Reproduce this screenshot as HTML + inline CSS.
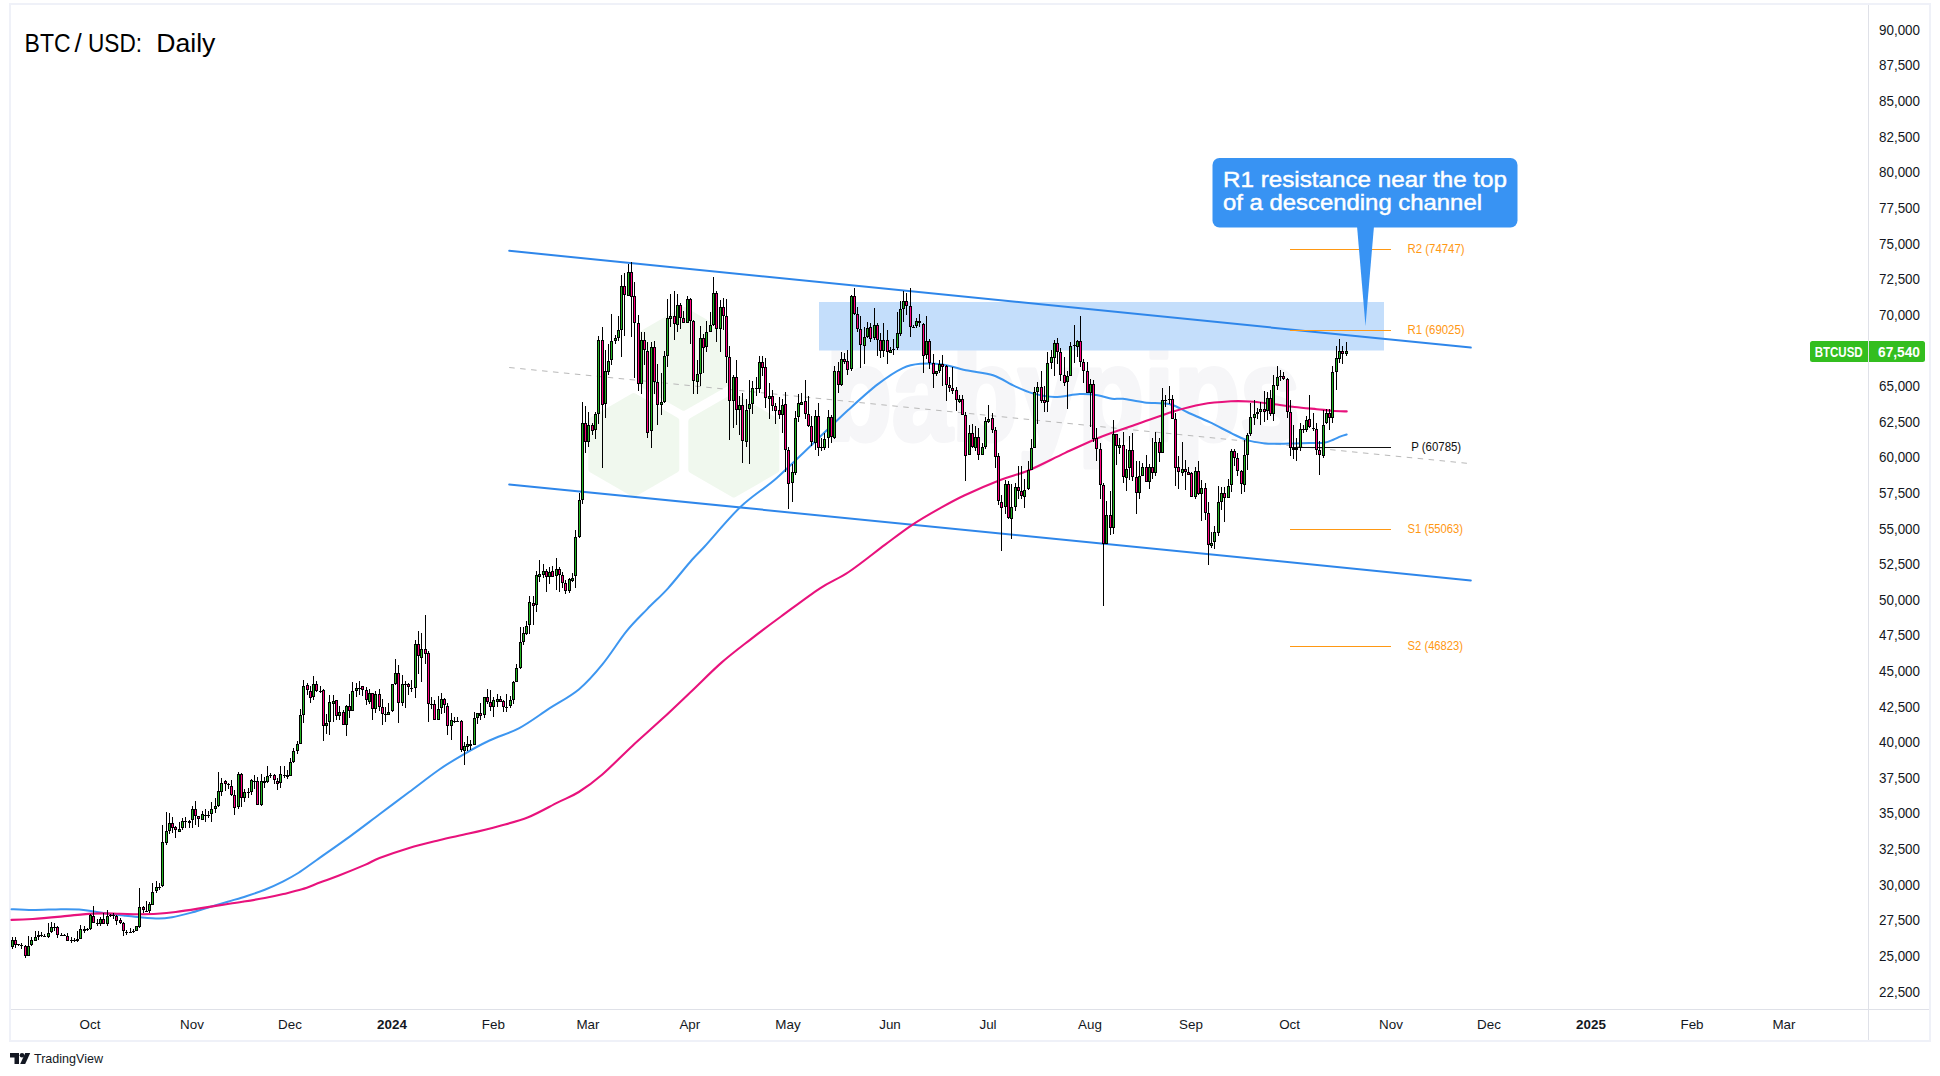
<!DOCTYPE html>
<html lang="en"><head><meta charset="utf-8"><title>BTC/USD: Daily</title>
<style>
html,body{margin:0;padding:0;background:#fff;}
body{width:1940px;height:1076px;overflow:hidden;position:relative;font-family:"Liberation Sans",sans-serif;}
svg{position:absolute;left:0;top:0;display:block;}
text{font-family:"Liberation Sans",sans-serif;}
</style></head><body>
<svg width="1940" height="1076" viewBox="0 0 1940 1076">
<rect x="0" y="0" width="1940" height="1076" fill="#ffffff"/>

<rect x="10" y="4" width="1920" height="1037" fill="none" stroke="#eff1f8" stroke-width="2"/>
<line x1="11" y1="1009.5" x2="1929" y2="1009.5" stroke="#dfe1e8" stroke-width="1"/>
<line x1="1868.5" y1="5" x2="1868.5" y2="1040" stroke="#dfe1e8" stroke-width="1"/>
<g fill="#f0f8ee" stroke="#f0f8ee" stroke-width="7" stroke-linejoin="round"><polygon points="633.8,396.5 675.8,420.8 675.8,469.2 633.8,493.5 591.8,469.2 591.8,420.8"/><polygon points="733.8,397.0 775.8,421.2 775.8,469.8 733.8,494.0 691.8,469.8 691.8,421.2"/><polygon points="683.6,310.3 725.6,334.6 725.6,383.1 683.6,407.3 641.6,383.1 641.6,334.6"/></g>
<text x="826" y="440" font-size="132" font-weight="bold" fill="#f6f6f8" stroke="#f6f6f8" stroke-width="5" stroke-linejoin="round" textLength="474" lengthAdjust="spacingAndGlyphs">babypips</text>
<rect x="819" y="302" width="565" height="48.5" fill="#c4defb"/>
<g stroke="#2e86ea" stroke-width="2" fill="none" stroke-linecap="round">
<line x1="509.2" y1="250.8" x2="1470.8" y2="347.6"/>
<line x1="509.2" y1="484.4" x2="1470.8" y2="580.4"/>
</g>
<line x1="509.2" y1="367.5" x2="1467" y2="463.3" stroke="#b9b9b9" stroke-width="1" stroke-dasharray="5.5,5.5"/>
<path d="M11.5,909.2 C15.0,909.4 24.6,910.1 32.8,910.1 C41.0,910.1 53.0,909.3 60.7,909.2 C68.4,909.1 73.6,909.1 79.2,909.5 C84.8,909.9 89.1,910.9 94.1,911.6 C99.0,912.3 103.7,913.1 108.9,913.8 C114.2,914.5 120.0,915.1 125.6,915.7 C131.2,916.3 136.7,917.0 142.3,917.5 C147.9,918.0 154.1,918.5 159.0,918.5 C163.9,918.5 166.7,918.1 172.0,917.2 C177.3,916.3 184.4,914.5 190.6,912.9 C196.8,911.2 202.9,909.1 209.1,907.3 C215.3,905.4 221.5,903.6 227.7,901.8 C233.9,899.9 240.0,898.2 246.2,896.2 C252.4,894.2 258.6,892.2 264.8,889.7 C271.0,887.2 277.7,884.1 283.3,881.3 C288.9,878.5 292.6,876.5 298.2,873.0 C303.8,869.5 308.1,866.1 316.7,860.0 C325.3,853.9 339.2,844.2 349.7,836.6 C360.2,829.0 369.6,821.7 379.5,814.3 C389.4,806.9 399.3,799.4 409.2,792.0 C419.1,784.6 430.1,775.9 439.0,769.7 C447.9,763.5 454.4,759.7 462.8,754.8 C471.2,749.9 480.1,745.0 489.5,740.5 C498.9,736.0 509.4,733.4 519.3,728.1 C529.2,722.8 539.1,715.2 549.0,708.7 C558.9,702.2 569.9,696.8 578.8,689.4 C587.7,682.0 594.7,673.8 602.6,664.1 C610.5,654.4 619.0,640.6 626.4,631.4 C633.8,622.2 640.3,616.3 647.2,609.1 C654.1,601.9 660.6,596.5 668.0,588.3 C675.4,580.1 685.7,566.9 691.8,560.0 C697.9,553.1 696.3,555.5 704.4,546.7 C712.5,537.9 728.4,518.4 740.4,507.0 C752.4,495.6 764.5,488.7 776.5,478.2 C788.5,467.7 800.6,455.3 812.6,443.9 C824.6,432.5 837.9,419.5 848.7,409.6 C859.5,399.7 868.6,391.3 877.6,384.4 C886.6,377.5 895.6,371.5 902.8,368.1 C910.0,364.7 914.3,364.4 920.9,363.8 C927.5,363.2 934.7,363.4 942.5,364.5 C950.3,365.6 959.4,368.8 967.8,370.6 C976.2,372.4 985.3,372.7 993.1,375.3 C1000.9,377.9 1008.1,383.2 1014.7,386.2 C1021.3,389.2 1026.2,391.6 1032.8,393.4 C1039.4,395.2 1046.6,396.9 1054.4,397.0 C1062.2,397.1 1072.5,394.4 1079.7,394.1 C1086.9,393.8 1092.3,394.4 1097.7,395.2 C1103.1,396.0 1107.9,398.2 1112.1,398.8 C1116.3,399.4 1117.6,398.2 1123.0,398.8 C1128.4,399.4 1136.8,401.5 1144.6,402.4 C1152.4,403.3 1162.7,402.5 1169.9,404.2 C1177.1,405.9 1181.3,409.5 1187.9,412.5 C1194.5,415.5 1202.4,418.8 1209.6,422.2 C1216.8,425.6 1225.2,430.2 1231.2,433.1 C1237.2,436.0 1240.1,437.9 1245.7,439.6 C1251.3,441.3 1259.2,442.7 1264.9,443.4 C1270.6,444.1 1274.8,443.7 1279.7,443.7 C1284.7,443.7 1289.6,443.5 1294.6,443.4 C1299.6,443.3 1304.5,443.1 1309.5,443.0 C1314.5,442.9 1320.3,443.2 1324.3,442.7 C1328.3,442.1 1330.6,440.8 1333.3,439.7 C1336.0,438.6 1338.5,437.3 1340.7,436.4 C1342.9,435.5 1345.7,434.8 1346.7,434.5" fill="none" stroke="#3d96f0" stroke-width="2" stroke-linecap="round" stroke-linejoin="round"/>
<path d="M11.5,919.9 C15.0,919.8 24.6,919.5 32.8,919.0 C41.0,918.5 52.4,917.4 60.7,916.6 C69.1,915.8 76.1,914.9 82.9,914.4 C89.7,913.9 95.3,913.5 101.5,913.4 C107.7,913.3 113.8,913.7 120.0,913.8 C126.2,913.9 132.4,914.2 138.6,914.2 C144.8,914.2 151.0,914.2 157.2,913.8 C163.4,913.4 168.9,912.9 175.7,912.0 C182.5,911.1 190.6,909.8 198.0,908.6 C205.4,907.5 212.9,906.2 220.3,905.1 C227.7,904.0 235.1,903.0 242.5,901.8 C249.9,900.6 258.0,899.3 264.8,898.0 C271.6,896.7 277.1,895.5 283.3,894.0 C289.5,892.5 295.7,891.2 301.9,889.3 C308.1,887.3 314.3,884.6 320.5,882.3 C326.7,880.0 331.6,878.4 339.0,875.5 C346.4,872.6 358.2,867.8 365.0,864.9 C371.8,862.0 372.1,860.8 379.5,858.0 C386.9,855.2 399.3,850.9 409.2,847.9 C419.1,844.9 429.1,842.6 439.0,840.2 C448.9,837.8 458.8,835.9 468.7,833.6 C478.6,831.3 488.6,828.9 498.5,826.2 C508.4,823.5 518.3,821.3 528.2,817.3 C538.1,813.3 549.5,806.6 557.9,802.4 C566.3,798.2 571.3,796.7 578.8,792.0 C586.2,787.3 593.7,781.9 602.6,774.2 C611.5,766.5 622.4,755.1 632.3,745.9 C642.2,736.7 652.1,728.3 662.0,719.1 C671.9,709.9 681.9,700.3 691.8,690.9 C701.7,681.5 711.6,671.3 721.5,662.6 C731.4,653.9 741.4,646.5 751.3,638.8 C761.2,631.1 769.5,624.9 781.0,616.5 C792.5,608.1 808.7,595.7 820.0,588.3 C831.3,580.9 837.9,579.2 848.7,572.0 C859.5,564.8 874.3,552.7 884.8,544.9 C895.3,537.1 902.9,531.1 911.9,525.1 C920.9,519.1 930.2,513.8 938.9,508.9 C947.6,504.0 954.0,500.3 964.2,495.5 C974.4,490.7 989.5,484.2 1000.3,480.0 C1011.1,475.8 1018.3,474.7 1029.1,470.2 C1039.9,465.7 1053.2,458.5 1065.2,452.9 C1077.2,447.3 1089.3,441.5 1101.3,436.7 C1113.3,431.9 1125.4,428.2 1137.4,424.0 C1149.4,419.8 1162.7,414.7 1173.5,411.4 C1184.3,408.1 1192.8,405.9 1202.4,404.2 C1212.0,402.5 1223.3,401.8 1231.2,401.3 C1239.1,400.9 1243.2,401.1 1250.0,401.5 C1256.8,401.9 1264.9,403.1 1272.3,404.0 C1279.7,404.9 1287.2,406.1 1294.6,407.0 C1302.0,407.9 1310.7,408.6 1316.9,409.2 C1323.1,409.8 1326.8,410.3 1331.8,410.7 C1336.8,411.1 1344.2,411.3 1346.7,411.4" fill="none" stroke="#e8127c" stroke-width="2.1" stroke-linecap="round" stroke-linejoin="round"/>
<line x1="1290" y1="249.5" x2="1391" y2="249.5" stroke="#ff9813" stroke-width="1.2"/>
<text x="1407.5" y="252.7" font-size="12.1" fill="#ff9813" textLength="57.1" lengthAdjust="spacingAndGlyphs">R2 (74747)</text>
<line x1="1290" y1="330.5" x2="1391" y2="330.5" stroke="#ff9813" stroke-width="1.2"/>
<text x="1407.5" y="333.7" font-size="12.1" fill="#ff9813" textLength="57.1" lengthAdjust="spacingAndGlyphs">R1 (69025)</text>
<line x1="1290" y1="447.5" x2="1391" y2="447.5" stroke="#111111" stroke-width="1.2"/>
<text x="1411.2" y="450.7" font-size="12.1" fill="#111111" textLength="50.0" lengthAdjust="spacingAndGlyphs">P (60785)</text>
<line x1="1290" y1="529.5" x2="1391" y2="529.5" stroke="#ff9813" stroke-width="1.2"/>
<text x="1407.6" y="532.7" font-size="12.1" fill="#ff9813" textLength="55.4" lengthAdjust="spacingAndGlyphs">S1 (55063)</text>
<line x1="1290" y1="646.5" x2="1391" y2="646.5" stroke="#ff9813" stroke-width="1.2"/>
<text x="1407.6" y="649.7" font-size="12.1" fill="#ff9813" textLength="55.4" lengthAdjust="spacingAndGlyphs">S2 (46823)</text>
<g shape-rendering="crispEdges">
<path d="M12.5,937V949M15.5,937V948M18.5,944V946M21.5,943V949M25.5,945V958M28.5,936V956M31.5,937V946M35.5,931V941M38.5,931V940M41.5,932V937M44.5,934V937M48.5,923V938M51.5,922V933M54.5,923V931M57.5,926V938M61.5,933V936M64.5,934V936M67.5,933V941M71.5,937V943M74.5,938V942M77.5,931V942M80.5,925V939M84.5,926V933M87.5,928V931M90.5,914V930M93.5,906V923M97.5,919V926M100.5,917V926M103.5,913V924M107.5,910V926M110.5,914V917M113.5,913V919M116.5,915V925M120.5,918V924M123.5,922V936M126.5,930V935M130.5,928V933M133.5,929V933M136.5,926V931M139.5,888V928M143.5,906V913M146.5,901V912M149.5,902V913M152.5,883V905M156.5,881V893M159.5,883V890M162.5,825V887M166.5,812V845M169.5,813V834M172.5,817V833M175.5,826V838M179.5,822V832M182.5,818V830M185.5,817V828M189.5,820V828M192.5,806V828M195.5,801V825M198.5,816V827M202.5,811V820M205.5,809V822M208.5,811V818M211.5,802V822M215.5,798V813M218.5,772V807M221.5,778V796M225.5,780V791M228.5,783V789M231.5,780V796M234.5,790V815M238.5,772V809M241.5,773V807M244.5,789V802M248.5,788V798M251.5,779V795M254.5,775V789M257.5,777V805M261.5,774V806M264.5,777V788M267.5,766V783M270.5,773V778M274.5,774V784M277.5,778V790M280.5,766V788M284.5,766V778M287.5,770V779M290.5,758V776M293.5,748V763M297.5,741V754M300.5,709V744M303.5,680V723M307.5,683V695M310.5,686V703M313.5,676V700M316.5,681V692M320.5,686V693M323.5,689V741M326.5,714V734M329.5,695V735M333.5,695V722M336.5,700V720M339.5,706V720M343.5,710V725M346.5,705V736M349.5,694V718M352.5,682V711M356.5,683V697M359.5,681V695M362.5,686V696M366.5,687V705M369.5,689V704M372.5,693V720M375.5,691V713M379.5,689V711M382.5,699V725M385.5,707V722M388.5,703V715M392.5,684V712M395.5,659V685M398.5,665V723M402.5,675V706M405.5,681V708M408.5,683V695M411.5,680V692M415.5,640V698M418.5,631V674M421.5,633V682M425.5,615V664M428.5,651V722M431.5,697V709M434.5,700V720M438.5,696V720M441.5,693V714M444.5,698V713M447.5,703V735M451.5,713V740M454.5,717V723M457.5,717V722M461.5,720V752M464.5,742V765M467.5,736V751M470.5,740V750M474.5,712V745M477.5,713V724M480.5,703V720M484.5,697V718M487.5,689V704M490.5,690V711M493.5,697V717M497.5,694V707M500.5,696V702M503.5,700V712M506.5,694V712M510.5,696V708M513.5,681V704M516.5,664V682M520.5,627V669M523.5,627V645M526.5,621V635M529.5,596V634M533.5,596V625M536.5,571V612M539.5,560V582M543.5,564V578M546.5,569V592M549.5,567V584M552.5,566V577M556.5,558V590M559.5,567V592M562.5,572V588M565.5,580V594M569.5,578V593M572.5,573V582M575.5,530V588M579.5,493V538M582.5,402V504M585.5,406V453M588.5,412V447M592.5,423V435M595.5,412V439M598.5,336V424M602.5,327V468M605.5,350V418M608.5,344V375M611.5,314V365M615.5,335V344M618.5,316V341M621.5,275V357M624.5,273V336M628.5,264V296M631.5,262V337M634.5,282V378M638.5,315V391M641.5,332V394M644.5,332V365M647.5,342V438M651.5,342V448M654.5,341V394M657.5,364V425M661.5,373V415M664.5,351V403M667.5,299V367M670.5,294V327M674.5,291V340M677.5,294V332M680.5,303V329M683.5,311V323M687.5,296V323M690.5,298V344M693.5,320V394M697.5,360V394M700.5,326V386M703.5,334V373M706.5,321V352M710.5,312V332M713.5,277V326M716.5,291V342M720.5,300V352M723.5,298V330M726.5,299V383M729.5,346V440M733.5,375V428M736.5,360V425M739.5,396V435M742.5,393V463M746.5,399V447M749.5,380V464M752.5,381V414M756.5,377V396M759.5,356V393M762.5,356V376M765.5,358V408M769.5,383V419M772.5,390V411M775.5,403V424M779.5,397V419M782.5,399V433M785.5,392V472M788.5,447V509M792.5,464V502M795.5,411V475M798.5,394V422M801.5,393V405M805.5,380V419M808.5,396V427M811.5,416V446M815.5,410V450M818.5,403V456M821.5,438V451M824.5,433V450M828.5,410V448M831.5,415V443M834.5,366V439M838.5,362V393M841.5,352V386M844.5,353V364M847.5,350V375M851.5,295V371M854.5,288V315M857.5,307V332M860.5,316V368M864.5,327V364M867.5,322V338M870.5,323V342M874.5,308V340M877.5,323V356M880.5,333V358M883.5,323V357M887.5,330V364M890.5,347V353M893.5,339V355M897.5,312V350M900.5,301V336M903.5,291V322M906.5,293V315M910.5,288V337M913.5,325V328M916.5,318V328M919.5,314V327M923.5,323V373M926.5,316V359M929.5,339V369M933.5,354V388M936.5,371V376M939.5,360V373M942.5,355V386M946.5,365V401M949.5,377V392M952.5,367V394M956.5,387V411M959.5,395V403M962.5,395V415M965.5,412V481M969.5,425V455M972.5,424V448M975.5,426V451M978.5,428V460M982.5,443V455M985.5,417V449M988.5,405V423M992.5,413V433M995.5,427V468M998.5,453V505M1001.5,495V551M1005.5,480V514M1008.5,481V519M1011.5,484V539M1015.5,483V511M1018.5,466V499M1021.5,466V499M1024.5,479V508M1028.5,461V490M1031.5,439V470M1034.5,387V448M1037.5,382V424M1041.5,371V403M1044.5,386V412M1047.5,352V412M1051.5,350V369M1054.5,340V376M1057.5,338V364M1060.5,348V381M1064.5,357V386M1067.5,371V409M1070.5,342V376M1074.5,325V363M1077.5,340V357M1080.5,316V367M1083.5,359V383M1087.5,362V393M1090.5,379V427M1093.5,380V442M1096.5,428V461M1100.5,443V499M1103.5,483V606M1106.5,501V544M1110.5,491V535M1113.5,420V534M1116.5,434V465M1119.5,438V454M1123.5,432V483M1126.5,449V491M1129.5,436V480M1132.5,433V481M1136.5,461V514M1139.5,461V499M1142.5,463V476M1146.5,455V482M1149.5,464V489M1152.5,438V479M1155.5,432V476M1159.5,438V462M1162.5,388V453M1165.5,395V407M1169.5,386V404M1172.5,395V419M1175.5,413V486M1178.5,456V489M1182.5,442V476M1185.5,460V490M1188.5,467V475M1191.5,472V497M1195.5,467V499M1198.5,461V495M1201.5,480V521M1205.5,483V520M1208.5,502V565M1211.5,532V548M1214.5,526V549M1218.5,486V536M1221.5,487V510M1224.5,487V522M1228.5,479V498M1231.5,449V492M1234.5,449V466M1237.5,453V476M1241.5,470V494M1244.5,440V492M1247.5,433V470M1250.5,403V436M1254.5,400V425M1257.5,408V419M1260.5,402V425M1264.5,391V422M1267.5,392V420M1270.5,390V416M1273.5,375V421M1277.5,366V390M1280.5,370V381M1283.5,372V380M1287.5,378V418M1290.5,400V456M1293.5,425V459M1296.5,438V461M1300.5,423V451M1303.5,425V433M1306.5,416V432M1309.5,395V428M1313.5,413V431M1316.5,423V455M1319.5,441V475M1323.5,410V458M1326.5,409V424M1329.5,409V430M1332.5,366V423M1336.5,346V390M1339.5,339V363M1342.5,346V364M1346.5,342V356" stroke="#000" stroke-width="1" fill="none"/>
<path d="M17.0,944.5H20.0M20.0,945.5H23.0M37.0,935.5H40.0M37.0,936.5H40.0M40.0,935.5H43.0M43.0,936.5H46.0M53.0,927.5H56.0M60.0,935.5H63.0M63.0,935.5H66.0M70.0,940.5H73.0M73.0,940.5H76.0M76.0,939.5H79.0M76.0,940.5H79.0M83.0,929.5H86.0M83.0,930.5H86.0M86.0,929.5H89.0M96.0,923.5H99.0M109.0,915.5H112.0M112.0,915.5H115.0M125.0,932.5H128.0M129.0,932.5H132.0M132.0,931.5H135.0M145.0,911.5H148.0M158.0,887.5H161.0M184.0,821.5H187.0M188.0,821.5H191.0M188.0,822.5H191.0M204.0,815.5H207.0M207.0,815.5H210.0M227.0,784.5H230.0M247.0,792.5H250.0M253.0,781.5H256.0M263.0,781.5H266.0M263.0,782.5H266.0M269.0,775.5H272.0M283.0,775.5H286.0M286.0,775.5H289.0M286.0,776.5H289.0M319.0,691.5H322.0M358.0,688.5H361.0M384.0,714.5H387.0M404.0,684.5H407.0M410.0,688.5H413.0M430.0,704.5H433.0M453.0,721.5H456.0M456.0,721.5H459.0M469.0,744.5H472.0M469.0,745.5H472.0M505.0,707.5H508.0M755.0,388.5H758.0M820.0,447.5H823.0M892.0,349.5H895.0M912.0,327.5H915.0M918.0,321.5H921.0M918.0,322.5H921.0M1073.0,345.5H1076.0M1164.0,400.5H1167.0M1168.0,399.5H1171.0M1256.0,412.5H1259.0M1256.0,413.5H1259.0M1279.0,376.5H1282.0M1292.0,448.5H1295.0M1292.0,449.5H1295.0M1295.0,448.5H1298.0M1295.0,449.5H1298.0M1302.0,429.5H1305.0M1312.0,428.5H1315.0" stroke="#000" stroke-width="1" fill="none"/>
<path d="M11.5,940.5H13.5V946.5H11.5ZM27.5,946.5H29.5V955.5H27.5ZM30.5,940.5H32.5V944.5H30.5ZM34.5,937.5H36.5V940.5H34.5ZM47.5,933.5H49.5V936.5H47.5ZM50.5,927.5H52.5V931.5H50.5ZM79.5,929.5H81.5V938.5H79.5ZM89.5,915.5H91.5V928.5H89.5ZM99.5,919.5H101.5V923.5H99.5ZM106.5,916.5H108.5V923.5H106.5ZM135.5,926.5H137.5V930.5H135.5ZM138.5,907.5H140.5V926.5H138.5ZM148.5,904.5H150.5V910.5H148.5ZM151.5,892.5H153.5V904.5H151.5ZM155.5,887.5H157.5V890.5H155.5ZM161.5,842.5H163.5V885.5H161.5ZM165.5,831.5H167.5V842.5H165.5ZM168.5,823.5H170.5V830.5H168.5ZM178.5,829.5H180.5V831.5H178.5ZM181.5,821.5H183.5V827.5H181.5ZM191.5,809.5H193.5V819.5H191.5ZM201.5,814.5H203.5V819.5H201.5ZM210.5,809.5H212.5V813.5H210.5ZM214.5,806.5H216.5V808.5H214.5ZM217.5,791.5H219.5V805.5H217.5ZM220.5,783.5H222.5V791.5H220.5ZM237.5,774.5H239.5V806.5H237.5ZM243.5,792.5H245.5V797.5H243.5ZM250.5,780.5H252.5V791.5H250.5ZM260.5,781.5H262.5V804.5H260.5ZM266.5,776.5H268.5V781.5H266.5ZM279.5,774.5H281.5V782.5H279.5ZM289.5,762.5H291.5V775.5H289.5ZM292.5,751.5H294.5V761.5H292.5ZM296.5,744.5H298.5V750.5H296.5ZM299.5,715.5H301.5V743.5H299.5ZM302.5,686.5H304.5V714.5H302.5ZM312.5,684.5H314.5V696.5H312.5ZM325.5,723.5H327.5V725.5H325.5ZM328.5,702.5H330.5V721.5H328.5ZM332.5,701.5H334.5V703.5H332.5ZM338.5,712.5H340.5V715.5H338.5ZM345.5,706.5H347.5V724.5H345.5ZM351.5,691.5H353.5V710.5H351.5ZM355.5,688.5H357.5V690.5H355.5ZM368.5,693.5H370.5V701.5H368.5ZM374.5,694.5H376.5V708.5H374.5ZM387.5,712.5H389.5V714.5H387.5ZM391.5,684.5H393.5V710.5H391.5ZM394.5,673.5H396.5V683.5H394.5ZM401.5,684.5H403.5V702.5H401.5ZM414.5,644.5H416.5V687.5H414.5ZM420.5,649.5H422.5V657.5H420.5ZM437.5,709.5H439.5V719.5H437.5ZM440.5,699.5H442.5V707.5H440.5ZM450.5,720.5H452.5V725.5H450.5ZM463.5,746.5H465.5V750.5H463.5ZM466.5,744.5H468.5V746.5H466.5ZM473.5,718.5H475.5V744.5H473.5ZM476.5,713.5H478.5V717.5H476.5ZM483.5,697.5H485.5V714.5H483.5ZM492.5,700.5H494.5V706.5H492.5ZM496.5,699.5H498.5V701.5H496.5ZM509.5,700.5H511.5V705.5H509.5ZM512.5,682.5H514.5V699.5H512.5ZM515.5,668.5H517.5V681.5H515.5ZM519.5,642.5H521.5V667.5H519.5ZM522.5,633.5H524.5V641.5H522.5ZM525.5,626.5H527.5V633.5H525.5ZM528.5,602.5H530.5V624.5H528.5ZM535.5,575.5H537.5V604.5H535.5ZM538.5,574.5H540.5V576.5H538.5ZM542.5,571.5H544.5V574.5H542.5ZM548.5,572.5H550.5V576.5H548.5ZM555.5,569.5H557.5V575.5H555.5ZM568.5,579.5H570.5V590.5H568.5ZM571.5,578.5H573.5V580.5H571.5ZM574.5,537.5H576.5V575.5H574.5ZM578.5,500.5H580.5V536.5H578.5ZM581.5,423.5H583.5V499.5H581.5ZM587.5,425.5H589.5V441.5H587.5ZM594.5,414.5H596.5V429.5H594.5ZM597.5,340.5H599.5V413.5H597.5ZM604.5,371.5H606.5V403.5H604.5ZM607.5,361.5H609.5V371.5H607.5ZM610.5,341.5H612.5V359.5H610.5ZM614.5,338.5H616.5V340.5H614.5ZM617.5,330.5H619.5V337.5H617.5ZM620.5,286.5H622.5V329.5H620.5ZM627.5,272.5H629.5V295.5H627.5ZM640.5,340.5H642.5V383.5H640.5ZM650.5,347.5H652.5V430.5H650.5ZM660.5,402.5H662.5V404.5H660.5ZM663.5,356.5H665.5V401.5H663.5ZM666.5,318.5H668.5V355.5H666.5ZM669.5,316.5H671.5V318.5H669.5ZM676.5,305.5H678.5V324.5H676.5ZM686.5,299.5H688.5V322.5H686.5ZM696.5,374.5H698.5V381.5H696.5ZM699.5,338.5H701.5V373.5H699.5ZM705.5,332.5H707.5V346.5H705.5ZM709.5,325.5H711.5V331.5H709.5ZM712.5,293.5H714.5V324.5H712.5ZM719.5,307.5H721.5V328.5H719.5ZM732.5,377.5H734.5V400.5H732.5ZM738.5,405.5H740.5V409.5H738.5ZM745.5,410.5H747.5V441.5H745.5ZM748.5,404.5H750.5V408.5H748.5ZM751.5,388.5H753.5V403.5H751.5ZM758.5,362.5H760.5V388.5H758.5ZM768.5,396.5H770.5V398.5H768.5ZM781.5,405.5H783.5V414.5H781.5ZM791.5,472.5H793.5V482.5H791.5ZM794.5,418.5H796.5V472.5H794.5ZM797.5,403.5H799.5V416.5H797.5ZM800.5,402.5H802.5V404.5H800.5ZM814.5,416.5H816.5V442.5H814.5ZM823.5,439.5H825.5V447.5H823.5ZM827.5,417.5H829.5V437.5H827.5ZM833.5,371.5H835.5V437.5H833.5ZM840.5,359.5H842.5V384.5H840.5ZM850.5,296.5H852.5V368.5H850.5ZM863.5,337.5H865.5V345.5H863.5ZM866.5,328.5H868.5V336.5H866.5ZM873.5,325.5H875.5V337.5H873.5ZM882.5,340.5H884.5V350.5H882.5ZM889.5,350.5H891.5V352.5H889.5ZM896.5,333.5H898.5V347.5H896.5ZM899.5,309.5H901.5V333.5H899.5ZM902.5,301.5H904.5V308.5H902.5ZM915.5,321.5H917.5V325.5H915.5ZM925.5,341.5H927.5V354.5H925.5ZM935.5,371.5H937.5V373.5H935.5ZM938.5,364.5H940.5V370.5H938.5ZM958.5,399.5H960.5V401.5H958.5ZM968.5,433.5H970.5V454.5H968.5ZM974.5,437.5H976.5V447.5H974.5ZM981.5,447.5H983.5V454.5H981.5ZM984.5,421.5H986.5V446.5H984.5ZM987.5,419.5H989.5V421.5H987.5ZM1004.5,484.5H1006.5V506.5H1004.5ZM1010.5,507.5H1012.5V518.5H1010.5ZM1014.5,487.5H1016.5V506.5H1014.5ZM1023.5,490.5H1025.5V496.5H1023.5ZM1027.5,470.5H1029.5V488.5H1027.5ZM1030.5,448.5H1032.5V469.5H1030.5ZM1033.5,392.5H1035.5V447.5H1033.5ZM1036.5,387.5H1038.5V391.5H1036.5ZM1046.5,363.5H1048.5V401.5H1046.5ZM1050.5,357.5H1052.5V362.5H1050.5ZM1053.5,343.5H1055.5V357.5H1053.5ZM1066.5,376.5H1068.5V381.5H1066.5ZM1069.5,346.5H1071.5V375.5H1069.5ZM1076.5,341.5H1078.5V346.5H1076.5ZM1089.5,384.5H1091.5V392.5H1089.5ZM1105.5,515.5H1107.5V543.5H1105.5ZM1112.5,434.5H1114.5V527.5H1112.5ZM1118.5,445.5H1120.5V447.5H1118.5ZM1125.5,469.5H1127.5V477.5H1125.5ZM1128.5,450.5H1130.5V467.5H1128.5ZM1138.5,476.5H1140.5V492.5H1138.5ZM1141.5,467.5H1143.5V475.5H1141.5ZM1148.5,467.5H1150.5V481.5H1148.5ZM1154.5,442.5H1156.5V472.5H1154.5ZM1161.5,400.5H1163.5V452.5H1161.5ZM1181.5,469.5H1183.5V472.5H1181.5ZM1194.5,471.5H1196.5V496.5H1194.5ZM1200.5,488.5H1202.5V493.5H1200.5ZM1210.5,543.5H1212.5V545.5H1210.5ZM1213.5,532.5H1215.5V541.5H1213.5ZM1217.5,502.5H1219.5V532.5H1217.5ZM1220.5,493.5H1222.5V501.5H1220.5ZM1227.5,486.5H1229.5V497.5H1227.5ZM1230.5,451.5H1232.5V484.5H1230.5ZM1243.5,455.5H1245.5V484.5H1243.5ZM1246.5,435.5H1248.5V454.5H1246.5ZM1249.5,417.5H1251.5V433.5H1249.5ZM1253.5,414.5H1255.5V417.5H1253.5ZM1259.5,409.5H1261.5V411.5H1259.5ZM1266.5,398.5H1268.5V410.5H1266.5ZM1272.5,385.5H1274.5V413.5H1272.5ZM1276.5,377.5H1278.5V385.5H1276.5ZM1299.5,429.5H1301.5V447.5H1299.5ZM1305.5,420.5H1307.5V429.5H1305.5ZM1322.5,425.5H1324.5V455.5H1322.5ZM1325.5,413.5H1327.5V422.5H1325.5ZM1331.5,372.5H1333.5V417.5H1331.5ZM1335.5,358.5H1337.5V371.5H1335.5ZM1338.5,351.5H1340.5V358.5H1338.5ZM1345.5,351.5H1347.5V353.5H1345.5Z" stroke="#000" stroke-width="1" fill="#22b522"/>
<path d="M14.5,940.5H16.5V944.5H14.5ZM24.5,946.5H26.5V955.5H24.5ZM56.5,927.5H58.5V934.5H56.5ZM66.5,936.5H68.5V940.5H66.5ZM92.5,916.5H94.5V922.5H92.5ZM102.5,919.5H104.5V923.5H102.5ZM115.5,916.5H117.5V920.5H115.5ZM119.5,920.5H121.5V922.5H119.5ZM122.5,923.5H124.5V930.5H122.5ZM142.5,907.5H144.5V909.5H142.5ZM171.5,823.5H173.5V827.5H171.5ZM174.5,827.5H176.5V829.5H174.5ZM194.5,809.5H196.5V815.5H194.5ZM197.5,816.5H199.5V818.5H197.5ZM224.5,781.5H226.5V783.5H224.5ZM230.5,786.5H232.5V794.5H230.5ZM233.5,795.5H235.5V807.5H233.5ZM240.5,774.5H242.5V797.5H240.5ZM256.5,781.5H258.5V804.5H256.5ZM273.5,775.5H275.5V779.5H273.5ZM276.5,781.5H278.5V783.5H276.5ZM306.5,685.5H308.5V689.5H306.5ZM309.5,691.5H311.5V697.5H309.5ZM315.5,684.5H317.5V690.5H315.5ZM322.5,690.5H324.5V725.5H322.5ZM335.5,700.5H337.5V715.5H335.5ZM342.5,712.5H344.5V724.5H342.5ZM348.5,706.5H350.5V710.5H348.5ZM361.5,686.5H363.5V689.5H361.5ZM365.5,690.5H367.5V699.5H365.5ZM371.5,693.5H373.5V708.5H371.5ZM378.5,694.5H380.5V706.5H378.5ZM381.5,707.5H383.5V713.5H381.5ZM397.5,673.5H399.5V702.5H397.5ZM407.5,684.5H409.5V686.5H407.5ZM417.5,644.5H419.5V655.5H417.5ZM424.5,649.5H426.5V653.5H424.5ZM427.5,653.5H429.5V703.5H427.5ZM433.5,704.5H435.5V719.5H433.5ZM443.5,699.5H445.5V704.5H443.5ZM446.5,706.5H448.5V725.5H446.5ZM460.5,721.5H462.5V749.5H460.5ZM479.5,713.5H481.5V715.5H479.5ZM486.5,697.5H488.5V701.5H486.5ZM489.5,702.5H491.5V706.5H489.5ZM499.5,699.5H501.5V701.5H499.5ZM502.5,701.5H504.5V706.5H502.5ZM532.5,603.5H534.5V605.5H532.5ZM545.5,571.5H547.5V576.5H545.5ZM551.5,571.5H553.5V576.5H551.5ZM558.5,569.5H560.5V574.5H558.5ZM561.5,575.5H563.5V582.5H561.5ZM564.5,583.5H566.5V590.5H564.5ZM584.5,423.5H586.5V441.5H584.5ZM591.5,425.5H593.5V430.5H591.5ZM601.5,340.5H603.5V404.5H601.5ZM623.5,286.5H625.5V294.5H623.5ZM630.5,272.5H632.5V296.5H630.5ZM633.5,296.5H635.5V322.5H633.5ZM637.5,323.5H639.5V383.5H637.5ZM643.5,340.5H645.5V349.5H643.5ZM646.5,351.5H648.5V432.5H646.5ZM653.5,347.5H655.5V381.5H653.5ZM656.5,382.5H658.5V404.5H656.5ZM673.5,316.5H675.5V323.5H673.5ZM679.5,305.5H681.5V317.5H679.5ZM682.5,318.5H684.5V322.5H682.5ZM689.5,299.5H691.5V320.5H689.5ZM692.5,321.5H694.5V380.5H692.5ZM702.5,338.5H704.5V347.5H702.5ZM715.5,293.5H717.5V328.5H715.5ZM722.5,307.5H724.5V315.5H722.5ZM725.5,316.5H727.5V356.5H725.5ZM728.5,357.5H730.5V400.5H728.5ZM735.5,377.5H737.5V409.5H735.5ZM741.5,405.5H743.5V440.5H741.5ZM761.5,362.5H763.5V367.5H761.5ZM764.5,367.5H766.5V397.5H764.5ZM771.5,396.5H773.5V405.5H771.5ZM774.5,406.5H776.5V410.5H774.5ZM778.5,410.5H780.5V414.5H778.5ZM784.5,404.5H786.5V449.5H784.5ZM787.5,450.5H789.5V483.5H787.5ZM804.5,401.5H806.5V413.5H804.5ZM807.5,414.5H809.5V425.5H807.5ZM810.5,426.5H812.5V441.5H810.5ZM817.5,416.5H819.5V447.5H817.5ZM830.5,417.5H832.5V436.5H830.5ZM837.5,371.5H839.5V384.5H837.5ZM843.5,359.5H845.5V361.5H843.5ZM846.5,361.5H848.5V369.5H846.5ZM853.5,296.5H855.5V313.5H853.5ZM856.5,314.5H858.5V328.5H856.5ZM859.5,329.5H861.5V344.5H859.5ZM869.5,327.5H871.5V338.5H869.5ZM876.5,325.5H878.5V339.5H876.5ZM879.5,340.5H881.5V350.5H879.5ZM886.5,340.5H888.5V351.5H886.5ZM905.5,301.5H907.5V305.5H905.5ZM909.5,306.5H911.5V326.5H909.5ZM922.5,324.5H924.5V355.5H922.5ZM928.5,341.5H930.5V362.5H928.5ZM932.5,363.5H934.5V373.5H932.5ZM941.5,364.5H943.5V366.5H941.5ZM945.5,366.5H947.5V384.5H945.5ZM948.5,385.5H950.5V387.5H948.5ZM951.5,388.5H953.5V390.5H951.5ZM955.5,390.5H957.5V399.5H955.5ZM961.5,399.5H963.5V414.5H961.5ZM964.5,415.5H966.5V455.5H964.5ZM971.5,433.5H973.5V446.5H971.5ZM977.5,437.5H979.5V454.5H977.5ZM991.5,418.5H993.5V429.5H991.5ZM994.5,430.5H996.5V456.5H994.5ZM997.5,456.5H999.5V500.5H997.5ZM1000.5,502.5H1002.5V507.5H1000.5ZM1007.5,484.5H1009.5V517.5H1007.5ZM1017.5,487.5H1019.5V490.5H1017.5ZM1020.5,491.5H1022.5V495.5H1020.5ZM1040.5,387.5H1042.5V400.5H1040.5ZM1043.5,400.5H1045.5V402.5H1043.5ZM1056.5,343.5H1058.5V351.5H1056.5ZM1059.5,352.5H1061.5V374.5H1059.5ZM1063.5,375.5H1065.5V382.5H1063.5ZM1079.5,341.5H1081.5V361.5H1079.5ZM1082.5,362.5H1084.5V370.5H1082.5ZM1086.5,371.5H1088.5V392.5H1086.5ZM1092.5,384.5H1094.5V438.5H1092.5ZM1095.5,438.5H1097.5V448.5H1095.5ZM1099.5,449.5H1101.5V484.5H1099.5ZM1102.5,485.5H1104.5V543.5H1102.5ZM1109.5,515.5H1111.5V527.5H1109.5ZM1115.5,434.5H1117.5V445.5H1115.5ZM1122.5,445.5H1124.5V476.5H1122.5ZM1131.5,450.5H1133.5V476.5H1131.5ZM1135.5,477.5H1137.5V492.5H1135.5ZM1145.5,467.5H1147.5V481.5H1145.5ZM1151.5,467.5H1153.5V472.5H1151.5ZM1158.5,442.5H1160.5V452.5H1158.5ZM1171.5,399.5H1173.5V418.5H1171.5ZM1174.5,419.5H1176.5V467.5H1174.5ZM1177.5,467.5H1179.5V471.5H1177.5ZM1184.5,469.5H1186.5V471.5H1184.5ZM1187.5,472.5H1189.5V474.5H1187.5ZM1190.5,473.5H1192.5V496.5H1190.5ZM1197.5,471.5H1199.5V493.5H1197.5ZM1204.5,488.5H1206.5V512.5H1204.5ZM1207.5,513.5H1209.5V544.5H1207.5ZM1223.5,493.5H1225.5V497.5H1223.5ZM1233.5,451.5H1235.5V457.5H1233.5ZM1236.5,458.5H1238.5V470.5H1236.5ZM1240.5,471.5H1242.5V483.5H1240.5ZM1263.5,409.5H1265.5V411.5H1263.5ZM1269.5,398.5H1271.5V413.5H1269.5ZM1282.5,376.5H1284.5V378.5H1282.5ZM1286.5,379.5H1288.5V411.5H1286.5ZM1289.5,412.5H1291.5V447.5H1289.5ZM1308.5,419.5H1310.5V426.5H1308.5ZM1315.5,429.5H1317.5V449.5H1315.5ZM1318.5,450.5H1320.5V454.5H1318.5ZM1328.5,413.5H1330.5V417.5H1328.5ZM1341.5,351.5H1343.5V353.5H1341.5Z" stroke="#000" stroke-width="1" fill="#ff007f"/>
</g>
<path d="M1357,226 L1374,226 L1365.5,326 Z" fill="#3893f3"/>
<rect x="1212.5" y="158" width="305" height="69.5" rx="7" ry="7" fill="#3893f3"/>
<text x="1223" y="186.6" font-size="22.5" fill="#fff" stroke="#fff" stroke-width="0.45" textLength="284" lengthAdjust="spacingAndGlyphs">R1 resistance near the top</text>
<text x="1223" y="210.1" font-size="22.5" fill="#fff" stroke="#fff" stroke-width="0.45" textLength="259" lengthAdjust="spacingAndGlyphs">of a descending channel</text>
<text y="52.2" font-size="26" fill="#000"><tspan x="24.6" textLength="46" lengthAdjust="spacingAndGlyphs">BTC</tspan><tspan x="74.6">/</tspan><tspan x="88" textLength="54" lengthAdjust="spacingAndGlyphs">USD:</tspan><tspan x="148.8" textLength="66.6" lengthAdjust="spacingAndGlyphs"> Daily</tspan></text>
<text x="1879" y="34.8" font-size="14" fill="#131722" textLength="41" lengthAdjust="spacingAndGlyphs">90,000</text>
<text x="1879" y="70.4" font-size="14" fill="#131722" textLength="41" lengthAdjust="spacingAndGlyphs">87,500</text>
<text x="1879" y="106.0" font-size="14" fill="#131722" textLength="41" lengthAdjust="spacingAndGlyphs">85,000</text>
<text x="1879" y="141.7" font-size="14" fill="#131722" textLength="41" lengthAdjust="spacingAndGlyphs">82,500</text>
<text x="1879" y="177.3" font-size="14" fill="#131722" textLength="41" lengthAdjust="spacingAndGlyphs">80,000</text>
<text x="1879" y="212.9" font-size="14" fill="#131722" textLength="41" lengthAdjust="spacingAndGlyphs">77,500</text>
<text x="1879" y="248.5" font-size="14" fill="#131722" textLength="41" lengthAdjust="spacingAndGlyphs">75,000</text>
<text x="1879" y="284.1" font-size="14" fill="#131722" textLength="41" lengthAdjust="spacingAndGlyphs">72,500</text>
<text x="1879" y="319.8" font-size="14" fill="#131722" textLength="41" lengthAdjust="spacingAndGlyphs">70,000</text>
<text x="1879" y="355.4" font-size="14" fill="#131722" textLength="41" lengthAdjust="spacingAndGlyphs">67,500</text>
<text x="1879" y="391.0" font-size="14" fill="#131722" textLength="41" lengthAdjust="spacingAndGlyphs">65,000</text>
<text x="1879" y="426.6" font-size="14" fill="#131722" textLength="41" lengthAdjust="spacingAndGlyphs">62,500</text>
<text x="1879" y="462.2" font-size="14" fill="#131722" textLength="41" lengthAdjust="spacingAndGlyphs">60,000</text>
<text x="1879" y="497.9" font-size="14" fill="#131722" textLength="41" lengthAdjust="spacingAndGlyphs">57,500</text>
<text x="1879" y="533.5" font-size="14" fill="#131722" textLength="41" lengthAdjust="spacingAndGlyphs">55,000</text>
<text x="1879" y="569.1" font-size="14" fill="#131722" textLength="41" lengthAdjust="spacingAndGlyphs">52,500</text>
<text x="1879" y="604.7" font-size="14" fill="#131722" textLength="41" lengthAdjust="spacingAndGlyphs">50,000</text>
<text x="1879" y="640.3" font-size="14" fill="#131722" textLength="41" lengthAdjust="spacingAndGlyphs">47,500</text>
<text x="1879" y="676.0" font-size="14" fill="#131722" textLength="41" lengthAdjust="spacingAndGlyphs">45,000</text>
<text x="1879" y="711.6" font-size="14" fill="#131722" textLength="41" lengthAdjust="spacingAndGlyphs">42,500</text>
<text x="1879" y="747.2" font-size="14" fill="#131722" textLength="41" lengthAdjust="spacingAndGlyphs">40,000</text>
<text x="1879" y="782.8" font-size="14" fill="#131722" textLength="41" lengthAdjust="spacingAndGlyphs">37,500</text>
<text x="1879" y="818.4" font-size="14" fill="#131722" textLength="41" lengthAdjust="spacingAndGlyphs">35,000</text>
<text x="1879" y="854.1" font-size="14" fill="#131722" textLength="41" lengthAdjust="spacingAndGlyphs">32,500</text>
<text x="1879" y="889.7" font-size="14" fill="#131722" textLength="41" lengthAdjust="spacingAndGlyphs">30,000</text>
<text x="1879" y="925.3" font-size="14" fill="#131722" textLength="41" lengthAdjust="spacingAndGlyphs">27,500</text>
<text x="1879" y="960.9" font-size="14" fill="#131722" textLength="41" lengthAdjust="spacingAndGlyphs">25,000</text>
<text x="1879" y="996.5" font-size="14" fill="#131722" textLength="41" lengthAdjust="spacingAndGlyphs">22,500</text>
<rect x="1810" y="341" width="115" height="21" rx="2.5" fill="#33be1f"/>
<line x1="1868.5" y1="341" x2="1868.5" y2="362" stroke="#dfe1e8" stroke-width="1"/>
<text x="1814.7" y="356.6" font-size="14" fill="#fff" font-weight="bold" textLength="48" lengthAdjust="spacingAndGlyphs">BTCUSD</text>
<text x="1878" y="356.6" font-size="14" fill="#fff" font-weight="bold" textLength="42" lengthAdjust="spacingAndGlyphs">67,540</text>
<text x="90" y="1028.6" font-size="13.4" text-anchor="middle" fill="#131722">Oct</text>
<text x="192" y="1028.6" font-size="13.4" text-anchor="middle" fill="#131722">Nov</text>
<text x="290" y="1028.6" font-size="13.4" text-anchor="middle" fill="#131722">Dec</text>
<text x="392" y="1028.6" font-size="13.4" text-anchor="middle" fill="#131722" font-weight="bold">2024</text>
<text x="493.3" y="1028.6" font-size="13.4" text-anchor="middle" fill="#131722">Feb</text>
<text x="588" y="1028.6" font-size="13.4" text-anchor="middle" fill="#131722">Mar</text>
<text x="689.8" y="1028.6" font-size="13.4" text-anchor="middle" fill="#131722">Apr</text>
<text x="788" y="1028.6" font-size="13.4" text-anchor="middle" fill="#131722">May</text>
<text x="890" y="1028.6" font-size="13.4" text-anchor="middle" fill="#131722">Jun</text>
<text x="988" y="1028.6" font-size="13.4" text-anchor="middle" fill="#131722">Jul</text>
<text x="1090" y="1028.6" font-size="13.4" text-anchor="middle" fill="#131722">Aug</text>
<text x="1191" y="1028.6" font-size="13.4" text-anchor="middle" fill="#131722">Sep</text>
<text x="1289.6" y="1028.6" font-size="13.4" text-anchor="middle" fill="#131722">Oct</text>
<text x="1391" y="1028.6" font-size="13.4" text-anchor="middle" fill="#131722">Nov</text>
<text x="1489" y="1028.6" font-size="13.4" text-anchor="middle" fill="#131722">Dec</text>
<text x="1591" y="1028.6" font-size="13.4" text-anchor="middle" fill="#131722" font-weight="bold">2025</text>
<text x="1692" y="1028.6" font-size="13.4" text-anchor="middle" fill="#131722">Feb</text>
<text x="1784" y="1028.6" font-size="13.4" text-anchor="middle" fill="#131722">Mar</text>
<g fill="#131722"><path d="M10,1053 H19 V1064 H14.5 V1057.5 H10 Z"/><circle cx="22" cy="1055.3" r="2.3"/><path d="M25.2,1053 H30.2 L25.2,1064 H20.2 Z"/></g>
<text x="34" y="1063" font-size="12.6" fill="#131722" textLength="69" lengthAdjust="spacingAndGlyphs">TradingView</text>
</svg></body></html>
